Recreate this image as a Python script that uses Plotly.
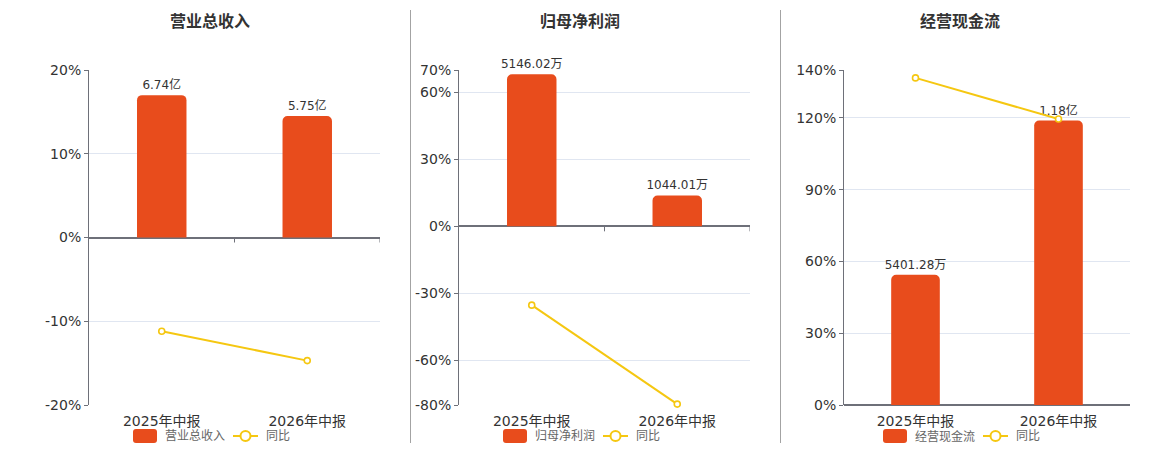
import plotly.graph_objects as go

# Data
categories = ['2025年中报', '2026年中报']

rev_values = [6.74, 5.75]            # 亿
rev_labels = ['6.74亿', '5.75亿']
rev_yoy = [-11.2, -14.7]             # %

profit_values = [5146.02, 1044.01]   # 万
profit_labels = ['5146.02万', '1044.01万']
profit_yoy = [-35.3, -79.6]

cash_values = [5401.28, 11800]       # 万
cash_labels = ['5401.28万', '1.18亿']
cash_yoy = [136.7, 119.5]

titles = ['营业总收入', '归母净利润', '经营现金流']
pct_ticks = [
    [-20, -10, 0, 10, 20],
    [-80, -60, -30, 0, 30, 60, 70],
    [0, 30, 60, 90, 120, 140],
]

W, H = 1160, 450
BAR_COLOR = '#E84C1C'
LINE_COLOR = '#F5C711'
AXIS_COLOR = '#6E7079'
GRID_COLOR = '#E0E6F1'
FONT = 'DejaVu Sans, Noto Sans CJK SC, sans-serif'


def px_x(p):
    return p / W


def px_y(p):
    return 1 - p / H


# panel layout in pixels: plot left/right, pct range, bar range, center for title/legend
panels = [
    dict(left=89, right=380, pct_range=[-20, 20], bar_range=[-7.93, 7.93], center=210,
         values=rev_values, labels=rev_labels, yoy=rev_yoy),
    dict(left=459, right=750, pct_range=[-80, 70], bar_range=[-6048, 5292], center=580,
         values=profit_values, labels=profit_labels, yoy=profit_yoy),
    dict(left=844, right=1130, pct_range=[0, 140], bar_range=[0, 13900], center=960,
         values=cash_values, labels=cash_labels, yoy=cash_yoy),
]

fig = go.Figure()
shapes = []
annotations = []
top_px, bottom_px = 70, 405

for i, p in enumerate(panels):
    n = i + 1
    xa = 'x' if n == 1 else f'x{n}'
    ya_bar = 'y' if n == 1 else f'y{n}'
    ya_pct = f'y{n + 3}'

    fig.add_trace(go.Bar(
        x=categories, y=p['values'], xaxis=xa, yaxis=ya_bar,
        marker=dict(color=BAR_COLOR, line=dict(width=0)),
        text=p['labels'], textposition='outside', cliponaxis=False,
        constraintext='none',
        textfont=dict(size=12, color='#333', family=FONT),
        name=titles[i], showlegend=False,
    ))
    fig.add_trace(go.Scatter(
        x=categories, y=p['yoy'], xaxis=xa, yaxis=ya_pct,
        mode='lines+markers', cliponaxis=False,
        line=dict(color=LINE_COLOR, width=2),
        marker=dict(symbol='circle', size=6, color='white',
                    line=dict(color=LINE_COLOR, width=1.6)),
        name='同比', showlegend=False,
    ))

    dom_x = [px_x(p['left']), px_x(p['right'])]
    dom_y = [px_y(bottom_px), px_y(top_px)]
    xkey = 'xaxis' if n == 1 else f'xaxis{n}'
    ykey = 'yaxis' if n == 1 else f'yaxis{n}'
    fig.update_layout({
        xkey: dict(domain=dom_x, anchor=ya_bar, type='category',
                   range=[-0.5, 1.5], showline=False, showgrid=False,
                   zeroline=False, ticks='', automargin=False,
                   ticklabelstandoff=6,
                   tickfont=dict(size=14, color='#333', family=FONT)),
        ykey: dict(domain=dom_y, anchor=xa, range=p['bar_range'],
                   visible=False, showgrid=False, zeroline=False),
        f'yaxis{n + 3}': dict(
            overlaying=ya_bar, anchor=xa, side='left', range=p['pct_range'],
            tickvals=pct_ticks[i], ticktext=[f'{v}%' for v in pct_ticks[i]],
            showline=True, linecolor=AXIS_COLOR, linewidth=1,
            ticks='outside', ticklen=4, tickcolor=AXIS_COLOR,
            showgrid=True, gridcolor=GRID_COLOR, gridwidth=1,
            zeroline=True, zerolinecolor=AXIS_COLOR, zerolinewidth=2,
            automargin=False,
            tickfont=dict(size=14, color='#333', family=FONT)),
    })

    # category boundary ticks on the zero line
    for bx in [0.5, 1.5]:
        shapes.append(dict(type='line', xref=xa, yref=ya_pct, x0=bx, x1=bx,
                           ysizemode='pixel', yanchor=0, y0=0, y1=-5,
                           line=dict(color=AXIS_COLOR, width=1)))

    c = p['center']
    annotations.append(dict(text=f'<b>{titles[i]}</b>', xref='paper', yref='paper',
                            x=px_x(c), y=px_y(22), showarrow=False,
                            xanchor='center', yanchor='middle',
                            font=dict(size=16, color='#333', family=FONT)))

    # legend (drawn by hand so it sits under each panel)
    ly = 436
    x0, x1, y0, y1, r = c - 77, c - 53, ly - 7, ly + 7, 3
    path = (f'M {px_x(x0 + r)},{px_y(y0)} L {px_x(x1 - r)},{px_y(y0)} '
            f'Q {px_x(x1)},{px_y(y0)} {px_x(x1)},{px_y(y0 + r)} '
            f'L {px_x(x1)},{px_y(y1 - r)} Q {px_x(x1)},{px_y(y1)} {px_x(x1 - r)},{px_y(y1)} '
            f'L {px_x(x0 + r)},{px_y(y1)} Q {px_x(x0)},{px_y(y1)} {px_x(x0)},{px_y(y1 - r)} '
            f'L {px_x(x0)},{px_y(y0 + r)} Q {px_x(x0)},{px_y(y0)} {px_x(x0 + r)},{px_y(y0)} Z')
    shapes.append(dict(type='path', xref='paper', yref='paper', path=path,
                       fillcolor=BAR_COLOR, line=dict(width=0)))
    annotations.append(dict(text=titles[i], xref='paper', yref='paper',
                            x=px_x(c - 47), y=px_y(ly), xanchor='left', yanchor='middle',
                            showarrow=False, font=dict(size=12, color='#666', family=FONT)))
    shapes.append(dict(type='line', xref='paper', yref='paper',
                       x0=px_x(c + 23), x1=px_x(c + 48), y0=px_y(ly), y1=px_y(ly),
                       line=dict(color=LINE_COLOR, width=2)))
    shapes.append(dict(type='circle', xref='paper', yref='paper',
                       x0=px_x(c + 30.5), x1=px_x(c + 40.5),
                       y0=px_y(ly - 5), y1=px_y(ly + 5),
                       fillcolor='white', line=dict(color=LINE_COLOR, width=2)))
    annotations.append(dict(text='同比', xref='paper', yref='paper',
                            x=px_x(c + 54), y=px_y(ly), xanchor='left', yanchor='middle',
                            showarrow=False, font=dict(size=12, color='#666', family=FONT)))

# panel separators
for sx in [410.5, 780.5]:
    shapes.append(dict(type='line', xref='paper', yref='paper',
                       x0=px_x(sx), x1=px_x(sx), y0=px_y(10), y1=px_y(443),
                       line=dict(color='#A3A3A3', width=1)))

fig.update_layout(
    width=W, height=H,
    margin=dict(l=0, r=0, t=0, b=0, pad=0),
    paper_bgcolor='white', plot_bgcolor='white',
    bargap=0.66, barcornerradius=5,
    shapes=shapes, annotations=annotations,
    font=dict(family=FONT),
)

# the page has the browser's default body margin; drop it so the figure fills the window
fig.write_html('out.html', config={'displayModeBar': False},
               post_script="document.body.style.margin='0';")
